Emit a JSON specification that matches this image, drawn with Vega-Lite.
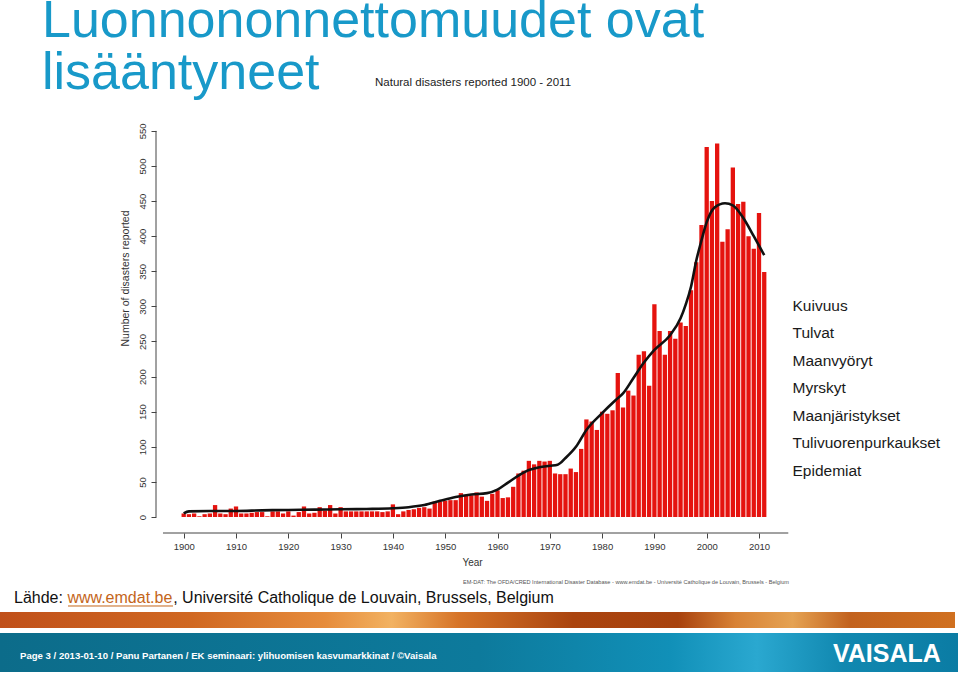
{
  "$schema": "https://vega.github.io/schema/vega-lite/v6.json",
  "autosize": "none",
  "width": 634,
  "height": 403,
  "padding": {"left": 156, "top": 130, "right": 170, "bottom": 148},
  "background": "white",
  "title": {
    "text": ["Luonnononnettomuudet ovat", "lisääntyneet"],
    "anchor": "start",
    "frame": "group",
    "dx": -114,
    "dy": 27,
    "font": "Liberation Sans",
    "fontSize": 52,
    "fontWeight": "normal",
    "color": "#1899C9",
    "lineHeight": 52
  },
  "config": {
    "view": {"stroke": null},
    "font": "Liberation Sans",
    "axisY": {"labelOverlap": false, "tickCount": 12},
    "axisX": {"labelOverlap": false}
  },
  "datasets": {
    "bars": [
      {"year":1900,"n":5},{"year":1901,"n":4},{"year":1902,"n":5},{"year":1903,"n":1},{"year":1904,"n":4},
      {"year":1905,"n":5},{"year":1906,"n":17},{"year":1907,"n":5},{"year":1908,"n":4},{"year":1909,"n":12},
      {"year":1910,"n":15},{"year":1911,"n":5},{"year":1912,"n":5},{"year":1913,"n":6},{"year":1914,"n":7},
      {"year":1915,"n":7},{"year":1916,"n":1},{"year":1917,"n":8},{"year":1918,"n":8},{"year":1919,"n":5},
      {"year":1920,"n":8},{"year":1921,"n":2},{"year":1922,"n":7},{"year":1923,"n":15},{"year":1924,"n":5},
      {"year":1925,"n":6},{"year":1926,"n":14},{"year":1927,"n":9},{"year":1928,"n":17},{"year":1929,"n":5},
      {"year":1930,"n":14},{"year":1931,"n":8},{"year":1932,"n":8},{"year":1933,"n":8},{"year":1934,"n":8},
      {"year":1935,"n":8},{"year":1936,"n":8},{"year":1937,"n":8},{"year":1938,"n":7},{"year":1939,"n":8},
      {"year":1940,"n":18},{"year":1941,"n":4},{"year":1942,"n":8},{"year":1943,"n":10},{"year":1944,"n":11},
      {"year":1945,"n":13},{"year":1946,"n":14},{"year":1947,"n":12},{"year":1948,"n":22},{"year":1949,"n":22},
      {"year":1950,"n":23},{"year":1951,"n":24},{"year":1952,"n":24},{"year":1953,"n":34},{"year":1954,"n":31},
      {"year":1955,"n":31},{"year":1956,"n":35},{"year":1957,"n":29},{"year":1958,"n":23},{"year":1959,"n":33},
      {"year":1960,"n":38},{"year":1961,"n":27},{"year":1962,"n":28},{"year":1963,"n":43},{"year":1964,"n":62},
      {"year":1965,"n":66},{"year":1966,"n":80},{"year":1967,"n":75},{"year":1968,"n":80},{"year":1969,"n":79},
      {"year":1970,"n":80},{"year":1971,"n":62},{"year":1972,"n":61},{"year":1973,"n":61},{"year":1974,"n":69},
      {"year":1975,"n":64},{"year":1976,"n":97},{"year":1977,"n":139},{"year":1978,"n":136},{"year":1979,"n":124},
      {"year":1980,"n":150},{"year":1981,"n":147},{"year":1982,"n":152},{"year":1983,"n":205},{"year":1984,"n":156},
      {"year":1985,"n":180},{"year":1986,"n":173},{"year":1987,"n":231},{"year":1988,"n":236},{"year":1989,"n":187},
      {"year":1990,"n":303},{"year":1991,"n":265},{"year":1992,"n":231},{"year":1993,"n":265},{"year":1994,"n":254},
      {"year":1995,"n":277},{"year":1996,"n":272},{"year":1997,"n":323},{"year":1998,"n":363},{"year":1999,"n":416},
      {"year":2000,"n":527},{"year":2001,"n":450},{"year":2002,"n":532},{"year":2003,"n":392},{"year":2004,"n":410},
      {"year":2005,"n":498},{"year":2006,"n":446},{"year":2007,"n":449},{"year":2008,"n":400},{"year":2009,"n":382},
      {"year":2010,"n":433},{"year":2011,"n":349}
    ],
    "smooth": [
      {"year":1900,"v":5},{"year":1901,"v":8},{"year":1905,"v":8.5},{"year":1910,"v":8.5},{"year":1915,"v":9.5},
      {"year":1920,"v":10},{"year":1925,"v":10.5},{"year":1930,"v":11},{"year":1935,"v":11.5},{"year":1940,"v":12.5},
      {"year":1943,"v":14},{"year":1946,"v":17},{"year":1949,"v":23},{"year":1952,"v":28.5},{"year":1955,"v":32},
      {"year":1958,"v":34},{"year":1960,"v":39},{"year":1962,"v":49},{"year":1964,"v":59},{"year":1966,"v":67},
      {"year":1968,"v":71},{"year":1970,"v":73},{"year":1971.5,"v":74.5},{"year":1973,"v":84},{"year":1975,"v":100},
      {"year":1977,"v":124},{"year":1980,"v":148},{"year":1982.5,"v":166},{"year":1984,"v":176},{"year":1986,"v":198},
      {"year":1988,"v":220},{"year":1990,"v":238},{"year":1993,"v":259},{"year":1995,"v":283},{"year":1996,"v":303},
      {"year":1997,"v":328},{"year":1998,"v":365},{"year":1999,"v":394},{"year":2000,"v":420},{"year":2001.5,"v":441},
      {"year":2003.5,"v":447},{"year":2005,"v":444},{"year":2007,"v":426},{"year":2009,"v":400},{"year":2011,"v":373}
    ],
    "types": [
      {"type":"Kuivuus"},{"type":"Tulvat"},{"type":"Maanvyöryt"},{"type":"Myrskyt"},
      {"type":"Maanjäristykset"},{"type":"Tulivuorenpurkaukset"},{"type":"Epidemiat"}
    ],
    "one": [{}]
  },
  "layer": [
    {
      "data": {"name": "bars"},
      "mark": {"type": "bar", "width": 4.3, "color": "#E5130F"},
      "encoding": {
        "x": {
          "field": "year", "type": "quantitative",
          "scale": {"domain": [1894.704, 2015.927], "nice": false, "zero": false, "padding": 0},
          "axis": {
            "values": [1900,1910,1920,1930,1940,1950,1960,1970,1980,1990,2000,2010],
            "format": "d", "domain": false, "grid": false, "tickSize": 5, "tickColor": "#444",
            "labelFontSize": 9.5, "labelColor": "#333", "labelPadding": 3, "labelOverlap": false,
            "title": "Year", "titleFontSize": 10, "titleFontWeight": "normal", "titleColor": "#333",
            "titleX": 316, "titleY": 29, "titleBaseline": "middle", "titleAlign": "center"
          }
        },
        "y": {
          "field": "n", "type": "quantitative",
          "scale": {"domain": [-22.792, 551.282], "nice": false, "zero": false, "padding": 0},
          "axis": {
            "values": [0,50,100,150,200,250,300,350,400,450,500,550],
            "tickCount": 12,
            "domain": false, "grid": false, "tickSize": 5, "tickColor": "#444",
            "labelAngle": -90, "labelAlign": "center", "labelBaseline": "bottom", "labelPadding": 4,
            "labelFontSize": 9.5, "labelColor": "#333", "labelOverlap": false,
            "title": "Number of disasters reported", "titleFontSize": 10.5, "titleFontWeight": "normal",
            "titleColor": "#333", "titleX": -31, "titleY": 148, "titleAngle": -90,
            "titleAlign": "center", "titleBaseline": "middle"
          }
        },
        "y2": {"datum": 0}
      }
    },
    {
      "data": {"name": "one"},
      "mark": {"type": "rect", "color": {"gradient": "linear", "x1": 0, "y1": 0, "x2": 1, "y2": 0,
        "stops": [
          {"offset": 0, "color": "#C0501A"}, {"offset": 0.2, "color": "#D06822"}, {"offset": 0.34, "color": "#E68C3C"},
          {"offset": 0.41, "color": "#F2B262"}, {"offset": 0.48, "color": "#D67428"}, {"offset": 0.6, "color": "#AA440F"},
          {"offset": 0.71, "color": "#A8420E"}, {"offset": 0.77, "color": "#D88236"}, {"offset": 0.83, "color": "#E5A252"},
          {"offset": 0.89, "color": "#C2621E"}, {"offset": 1, "color": "#D07020"}]}},
      "encoding": {
        "x": {"datum": 1864.876, "type": "quantitative"},
        "x2": {"datum": 2047.476},
        "y": {"datum": -135.33, "type": "quantitative"},
        "y2": {"datum": -158.12}
      }
    },
    {
      "data": {"name": "one"},
      "mark": {"type": "rect", "color": {"gradient": "linear", "x1": 0, "y1": 0, "x2": 1, "y2": 0,
        "stops": [
          {"offset": 0, "color": "#0C6C8A"}, {"offset": 0.5, "color": "#0D7A9C"}, {"offset": 0.7, "color": "#1190B8"},
          {"offset": 0.79, "color": "#2AA8D0"}, {"offset": 0.88, "color": "#1188B0"}, {"offset": 1, "color": "#0B7CA4"}]}},
      "encoding": {
        "x": {"datum": 1864.876, "type": "quantitative"},
        "x2": {"datum": 2048.05},
        "y": {"datum": -165.24, "type": "quantitative"},
        "y2": {"datum": -220.80}
      }
    },
    {
      "data": {"name": "smooth"},
      "mark": {"type": "line", "color": "#111", "strokeWidth": 2.6, "interpolate": "monotone"},
      "encoding": {
        "x": {"field": "year", "type": "quantitative"},
        "y": {"field": "v", "type": "quantitative"}
      }
    },
    {
      "data": {"name": "one"},
      "mark": {"type": "rule", "color": "#444", "strokeWidth": 1},
      "encoding": {
        "x": {"datum": 1896.04, "type": "quantitative"},
        "x2": {"datum": 2015.6},
        "y": {"datum": -22.792, "type": "quantitative"}
      }
    },
    {
      "data": {"name": "one"},
      "mark": {"type": "rule", "color": "#444", "strokeWidth": 1},
      "encoding": {
        "x": {"datum": 1894.704, "type": "quantitative"},
        "y": {"datum": 0, "type": "quantitative"},
        "y2": {"datum": 550}
      }
    },
    {
      "data": {"name": "one"},
      "mark": {"type": "text", "text": "Natural disasters reported 1900 - 2011", "align": "left", "baseline": "middle", "fontSize": 11.5, "color": "#222"},
      "encoding": {
        "x": {"datum": 1936.578, "type": "quantitative"},
        "y": {"datum": 618.23, "type": "quantitative"}
      }
    },
    {
      "data": {"name": "one"},
      "mark": {"type": "text", "text": "EM-DAT: The OFDA/CRED International Disaster Database - www.emdat.be - Université Catholique de Louvain, Brussels - Belgium", "align": "left", "baseline": "middle", "fontSize": 5.6, "color": "#555"},
      "encoding": {
        "x": {"datum": 1953.40, "type": "quantitative"},
        "y": {"datum": -92.59, "type": "quantitative"}
      }
    },
    {
      "data": {"name": "one"},
      "mark": {"type": "text", "text": "Lähde: ", "align": "left", "baseline": "middle", "fontSize": 16, "color": "#111"},
      "encoding": {
        "x": {"datum": 1867.553, "type": "quantitative"},
        "y": {"datum": -115.38, "type": "quantitative"}
      }
    },
    {
      "data": {"name": "one"},
      "mark": {"type": "text", "text": "www.emdat.be", "align": "left", "baseline": "middle", "fontSize": 16, "color": "#C4651A"},
      "encoding": {
        "x": {"datum": 1877.763, "type": "quantitative"},
        "y": {"datum": -115.38, "type": "quantitative"}
      }
    },
    {
      "data": {"name": "one"},
      "mark": {"type": "rule", "color": "#C4651A", "strokeWidth": 1},
      "encoding": {
        "x": {"datum": 1877.878, "type": "quantitative"},
        "x2": {"datum": 1897.954},
        "y": {"datum": -126.78, "type": "quantitative"}
      }
    },
    {
      "data": {"name": "one"},
      "mark": {"type": "text", "text": ", Université Catholique de Louvain, Brussels, Belgium", "align": "left", "baseline": "middle", "fontSize": 16, "color": "#111"},
      "encoding": {
        "x": {"datum": 1897.992, "type": "quantitative"},
        "y": {"datum": -115.38, "type": "quantitative"}
      }
    },
    {
      "data": {"name": "one"},
      "mark": {"type": "text", "text": "Page 3 / 2013-01-10 / Panu Partanen / EK seminaari: ylihuomisen kasvumarkkinat / ©Vaisala", "align": "left", "baseline": "middle", "fontSize": 9.6, "fontWeight": "bold", "font": "Liberation Sans", "color": "white"},
      "encoding": {
        "x": {"datum": 1868.700, "type": "quantitative"},
        "y": {"datum": -198.01, "type": "quantitative"}
      }
    },
    {
      "data": {"name": "one"},
      "mark": {"type": "text", "text": "VAISALA", "align": "center", "baseline": "middle", "fontSize": 25, "fontWeight": "bold", "font": "Liberation Sans", "color": "white"},
      "encoding": {
        "x": {"datum": 2034.46, "type": "quantitative"},
        "y": {"datum": -195.16, "type": "quantitative"}
      }
    },
    {
      "data": {"name": "types"},
      "mark": {"type": "point", "opacity": 0},
      "encoding": {
        "color": {
          "field": "type", "type": "nominal", "sort": null,
          "scale": {"range": ["#1a1a1a"]},
          "legend": {
            "orient": "none", "legendX": 621, "legendY": 168, "title": null,
            "labelFontSize": 15.5, "labelFont": "Liberation Sans", "labelColor": "#1a1a1a",
            "symbolSize": 0, "symbolOpacity": 0, "symbolStrokeWidth": 0, "labelOffset": 0,
            "rowPadding": 10.5, "padding": 0, "labelLimit": 300
          }
        }
      }
    }
  ]
}
